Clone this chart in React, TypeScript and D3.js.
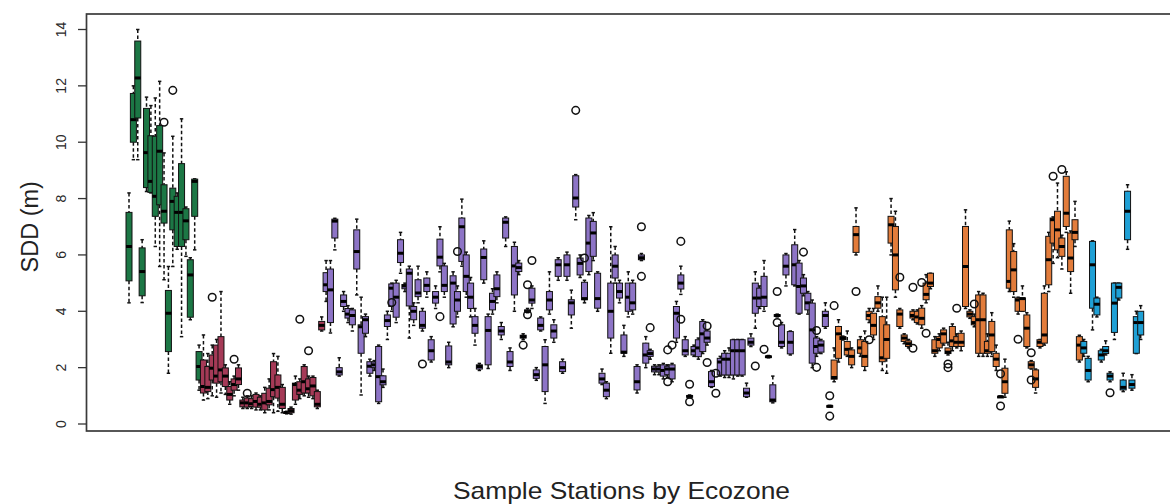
import React from "react";
import * as d3 from "d3";

// [station, lower whisker, q1, median, q3, upper whisker]
type Box = [number, number, number, number, number, number];

const greenBoxes: Box[] = [
  [0, 4.3, 5.08, 6.3, 7.51, 8.2],
  [1, 9.38, 10.0, 10.8, 11.73, 12.0],
  [2, 9.38, 10.86, 12.28, 13.59, 14.0],
  [3, 4.31, 4.55, 5.41, 6.25, 6.54],
  [4, 8.25, 8.39, 9.63, 11.2, 11.6],
  [5, 8.2, 8.22, 8.61, 10.23, 11.3],
  [6, 6.3, 7.37, 8.08, 10.21, 11.57],
  [7, 5.59, 7.78, 9.68, 10.59, 12.16],
  [8, 5.12, 7.13, 7.55, 8.49, 9.62],
  [9, 1.8, 2.57, 3.93, 4.74, 5.59],
  [10, 5.59, 6.89, 7.9, 8.37, 10.21],
  [11, 6.2, 6.3, 7.51, 8.08, 8.2],
  [12, 3.1, 6.3, 7.51, 9.24, 10.83],
  [13, 5.95, 6.54, 7.21, 7.64, 7.7],
  [14, 3.7, 3.79, 5.29, 5.83, 5.9],
  [15, 6.18, 7.37, 8.61, 8.69, 8.7],
  [16, 1.2, 1.56, 2.04, 2.57, 2.8],
];

const redBoxes: Box[] = [
  [17, 0.85, 1.1, 1.33, 2.27, 3.16],
  [18, 0.9, 1.15, 1.3, 2.04, 2.5],
  [19, 1.0, 1.56, 1.98, 2.45, 2.8],
  [20, 0.95, 1.45, 1.7, 2.8, 3.0],
  [21, 1.1, 1.5, 1.92, 3.1, 4.7],
  [22, 1.05, 1.33, 1.7, 1.99, 2.1],
  [23, 0.7, 0.85, 1.05, 1.33, 1.5],
  [24, 1.0, 1.2, 1.4, 1.6, 1.7],
  [25, 1.2, 1.4, 1.6, 1.99, 2.1],
  [26, 0.55, 0.61, 0.75, 0.85, 0.95],
  [27, 0.55, 0.6, 0.75, 0.92, 1.0],
  [28, 0.55, 0.62, 0.72, 0.9, 1.0],
  [29, 0.5, 0.6, 0.8, 1.05, 1.1],
  [30, 0.5, 0.6, 0.7, 0.95, 1.0],
  [31, 0.4, 0.5, 0.75, 1.09, 1.3],
  [32, 0.5, 0.68, 0.8, 1.27, 1.6],
  [33, 0.4, 0.97, 1.22, 2.21, 2.5],
  [34, 0.45, 0.92, 1.3, 1.74, 2.4],
  [35, 0.4, 0.55, 0.7, 1.3, 1.4],
  [36, 0.36, 0.38, 0.41, 0.43, 0.45],
  [37, 0.35, 0.4, 0.47, 0.55, 0.6],
  [38, 0.7, 0.85, 1.4, 1.45, 1.7],
  [39, 0.9, 1.05, 1.2, 1.5, 1.6],
  [40, 1.0, 1.1, 1.5, 2.04, 2.1],
  [41, 0.95, 1.1, 1.25, 1.6, 1.7],
  [42, 0.9, 1.0, 1.35, 1.65, 1.7],
  [43, 0.55, 0.61, 0.7, 1.15, 1.2],
  [44, 3.3, 3.34, 3.5, 3.64, 3.8],
];

const purpleBoxes: Box[] = [
  [45, 4.35, 4.7, 4.94, 5.37, 5.8],
  [46, 3.23, 3.6, 4.76, 5.5, 5.8],
  [47, 6.18, 6.6, 7.2, 7.27, 7.3],
  [48, 1.7, 1.74, 1.85, 2.0, 2.35],
  [49, 4.0, 4.17, 4.35, 4.58, 4.7],
  [50, 3.6, 3.76, 3.9, 4.1, 4.2],
  [51, 3.3, 3.52, 3.85, 4.05, 4.1],
  [52, 4.58, 5.5, 6.12, 6.89, 7.27],
  [53, 1.03, 2.51, 3.45, 3.52, 4.5],
  [54, 3.1, 3.22, 3.7, 3.81, 3.9],
  [55, 1.7, 1.8, 2.05, 2.21, 2.3],
  [56, 1.9, 2.0, 2.1, 2.2, 2.25],
  [57, 0.73, 0.79, 1.68, 2.75, 2.8],
  [58, 1.3, 1.39, 1.5, 1.71, 1.95],
  [59, 3.0, 3.46, 3.67, 3.87, 4.0],
  [60, 4.0, 4.17, 4.82, 4.97, 5.0],
  [61, 3.6, 3.79, 4.5, 5.0, 5.1],
  [62, 5.35, 5.73, 6.06, 6.54, 6.8],
  [63, 4.7, 4.8, 4.9, 4.95, 5.0],
  [64, 3.05, 4.19, 5.35, 5.5, 5.6],
  [65, 3.5, 3.7, 4.0, 4.17, 4.3],
  [66, 4.3, 4.52, 4.65, 5.12, 5.6],
  [67, 3.3, 3.4, 3.5, 4.0, 4.1],
  [68, 4.5, 4.7, 4.92, 5.18, 5.4],
  [69, 2.2, 2.27, 2.6, 2.99, 3.1],
  [70, 4.1, 4.29, 4.5, 4.7, 4.9],
  [71, 5.4, 5.61, 5.92, 6.56, 7.0],
  [72, 4.5, 4.7, 4.92, 5.61, 5.7],
  [73, 2.0, 2.1, 2.2, 2.77, 2.9],
  [74, 3.45, 3.55, 5.0, 5.26, 5.4],
  [75, 3.8, 4.0, 4.4, 4.7, 4.9],
  [76, 5.6, 5.77, 7.0, 7.31, 7.98],
  [77, 4.5, 4.7, 5.24, 6.0, 6.1],
  [78, 3.8, 4.1, 4.5, 5.0, 5.2],
  [79, 2.8, 3.22, 3.5, 3.81, 4.1],
  [80, 1.9, 1.95, 2.04, 2.1, 2.15],
  [81, 5.0, 5.12, 5.91, 6.21, 6.5],
  [82, 1.97, 2.1, 3.32, 3.81, 3.9],
  [83, 3.9, 4.05, 4.35, 4.64, 4.8],
  [84, 4.3, 4.52, 4.8, 5.29, 5.4],
  [85, 3.0, 3.16, 3.3, 3.46, 3.6],
  [86, 6.3, 6.6, 7.16, 7.31, 7.35],
  [87, 1.9, 2.04, 2.2, 2.57, 2.7],
  [88, 4.0, 4.58, 5.61, 6.3, 6.45],
  [89, 5.3, 5.41, 5.55, 5.71, 5.8],
  [90, 3.0, 3.05, 3.1, 3.15, 3.2],
  [91, 3.95, 3.97, 4.0, 4.05, 4.1],
  [92, 4.1, 4.29, 4.4, 4.82, 4.9],
  [93, 1.55, 1.62, 1.75, 1.92, 2.0],
  [94, 3.3, 3.34, 3.5, 3.76, 3.8],
  [95, 0.73, 1.15, 2.1, 2.75, 2.99],
  [96, 3.9, 4.05, 4.4, 4.7, 5.4],
  [97, 2.9, 3.05, 3.3, 3.52, 3.7],
  [98, 5.1, 5.24, 5.65, 5.83, 5.9],
  [99, 1.8, 1.86, 2.0, 2.21, 2.3],
  [100, 5.1, 5.24, 5.65, 6.0, 6.1],
  [101, 3.4, 3.87, 4.3, 4.41, 4.75],
  [102, 7.25, 7.7, 8.02, 8.81, 8.85],
  [103, 5.2, 5.29, 5.7, 5.89, 6.0],
  [104, 4.3, 4.41, 4.45, 5.03, 5.1],
  [105, 5.3, 5.41, 6.42, 7.31, 7.4],
  [106, 5.8, 5.95, 6.78, 7.19, 7.5],
  [107, 4.0, 4.11, 4.45, 5.35, 5.4],
  [108, 1.4, 1.45, 1.6, 1.8, 1.95],
  [109, 0.9, 0.97, 1.2, 1.45, 1.5],
  [110, 2.51, 3.05, 4.0, 5.0, 7.0],
  [111, 5.0, 5.18, 5.6, 6.0, 6.3],
  [112, 4.3, 4.47, 4.7, 5.0, 5.1],
  [113, 2.4, 2.51, 2.55, 3.16, 3.5],
  [114, 3.8, 4.0, 4.5, 5.0, 5.4],
  [115, 3.9, 4.05, 4.3, 5.0, 5.1],
  [116, 1.1, 1.21, 1.5, 2.04, 2.1],
  [117, 5.8, 5.83, 5.9, 6.0, 6.05],
  [118, 2.0, 2.16, 2.45, 2.87, 3.1],
  [119, 2.3, 2.4, 2.5, 2.6, 2.65],
  [120, 1.75, 1.85, 1.95, 2.05, 2.1],
  [121, 1.75, 1.85, 1.95, 2.05, 2.1],
  [122, 1.6, 1.7, 1.9, 2.1, 2.15],
  [123, 1.65, 1.75, 1.95, 2.05, 2.1],
  [124, 1.5, 1.6, 1.95, 2.1, 2.15],
  [125, 2.9, 3.05, 3.93, 4.17, 4.35],
  [126, 4.6, 4.79, 5.0, 5.29, 5.6],
  [127, 2.4, 2.45, 2.6, 2.99, 3.1],
  [128, 0.93, 0.95, 0.98, 1.01, 1.03],
  [129, 2.4, 2.45, 2.6, 2.75, 2.8],
  [130, 2.3, 2.39, 2.7, 2.99, 3.05],
  [131, 2.5, 2.57, 3.2, 3.64, 3.7],
  [132, 2.8, 2.9, 3.05, 3.3, 3.35],
  [133, 1.3, 1.33, 1.5, 1.86, 1.9],
  [135, 1.7, 1.74, 2.2, 2.33, 2.4],
  [136, 1.65, 1.74, 2.3, 2.51, 2.6],
  [137, 1.65, 1.74, 2.3, 2.51, 2.7],
  [138, 1.6, 1.74, 2.6, 2.99, 3.0],
  [139, 1.7, 1.74, 2.6, 2.99, 3.0],
  [140, 1.7, 1.74, 2.6, 2.99, 3.0],
  [141, 0.95, 0.97, 1.1, 1.27, 1.45],
  [142, 2.75, 2.8, 2.9, 3.05, 3.2],
  [143, 3.4, 3.93, 4.47, 5.0, 5.4],
  [144, 4.1, 4.17, 4.47, 4.82, 4.9],
  [145, 4.0, 4.17, 4.5, 5.24, 5.8],
  [146, 2.35, 2.37, 2.39, 2.41, 2.43],
  [147, 0.75, 0.79, 0.85, 1.39, 1.7],
  [148, 3.8, 3.82, 3.85, 3.88, 3.9],
  [149, 2.7, 2.75, 2.9, 3.52, 3.6],
  [150, 4.9, 5.29, 5.6, 6.0, 6.05],
  [151, 2.45, 2.49, 2.9, 3.28, 3.3],
  [152, 4.9, 4.94, 5.65, 6.36, 6.9],
  [153, 3.9, 3.93, 4.88, 5.71, 5.8],
  [154, 4.55, 4.64, 4.9, 5.18, 5.3],
  [155, 3.9, 4.05, 4.3, 4.64, 4.7],
  [156, 2.0, 2.16, 3.34, 4.29, 4.4],
  [157, 2.4, 2.51, 2.75, 3.05, 3.1],
  [158, 2.5, 2.55, 2.8, 2.95, 3.0],
  [159, 3.4, 3.46, 3.85, 4.0, 4.3],
];

const orangeBoxes: Box[] = [
  [160, 0.6, 0.61, 0.63, 0.65, 0.66],
  [161, 1.5, 1.59, 1.65, 2.27, 2.7],
  [162, 2.2, 2.33, 3.2, 3.46, 3.7],
  [163, 2.98, 3.0, 3.05, 3.1, 3.12],
  [164, 2.4, 2.45, 2.65, 2.93, 3.3],
  [165, 2.0, 2.1, 2.4, 2.63, 2.7],
  [166, 6.0, 6.09, 6.72, 7.01, 7.67],
  [167, 2.4, 2.51, 2.7, 2.99, 3.1],
  [168, 1.9, 2.04, 2.4, 2.93, 3.3],
  [169, 3.6, 3.7, 3.85, 4.0, 4.1],
  [170, 3.0, 3.16, 3.5, 3.93, 4.1],
  [171, 4.0, 4.11, 4.3, 4.52, 4.9],
  [172, 1.9, 2.21, 2.35, 3.81, 4.5],
  [173, 1.8, 2.33, 3.0, 3.52, 4.5],
  [174, 6.0, 6.42, 7.07, 7.37, 8.0],
  [175, 4.5, 4.76, 6.0, 7.01, 7.55],
  [176, 3.4, 3.46, 3.9, 4.05, 4.1],
  [177, 2.85, 2.93, 3.05, 3.16, 3.2],
  [178, 2.7, 2.75, 2.85, 2.95, 3.0],
  [179, 3.7, 3.76, 3.85, 4.0, 4.05],
  [180, 3.55, 3.6, 3.8, 4.0, 4.05],
  [181, 3.4, 3.52, 3.75, 4.11, 4.2],
  [182, 4.3, 4.41, 4.6, 5.0, 5.3],
  [183, 4.8, 4.88, 5.0, 5.35, 5.35],
  [184, 2.4, 2.51, 2.6, 2.99, 3.1],
  [185, 2.6, 2.7, 3.0, 3.1, 3.2],
  [186, 2.8, 2.87, 3.2, 3.34, 3.4],
  [187, 2.45, 2.5, 2.55, 2.7, 2.9],
  [188, 2.6, 2.75, 2.95, 3.46, 3.55],
  [189, 2.7, 2.75, 2.9, 3.1, 3.2],
  [190, 2.6, 2.75, 2.9, 3.22, 3.3],
  [191, 4.1, 4.17, 5.59, 7.01, 7.6],
  [192, 3.75, 3.8, 3.9, 4.0, 4.05],
  [193, 3.45, 3.52, 3.6, 3.81, 3.9],
  [194, 2.4, 2.51, 3.7, 4.58, 4.7],
  [195, 2.4, 2.51, 3.7, 4.58, 4.64],
  [196, 2.4, 2.51, 2.6, 2.93, 3.2],
  [197, 2.4, 2.57, 3.16, 3.64, 3.95],
  [198, 1.9, 2.04, 2.3, 2.51, 2.8],
  [199, 0.95, 0.96, 0.97, 0.98, 0.99],
  [200, 0.95, 1.09, 1.5, 1.98, 2.3],
  [201, 4.7, 4.82, 5.06, 6.89, 7.2],
  [202, 4.5, 4.7, 5.47, 6.12, 6.4],
  [203, 3.9, 4.0, 4.4, 4.47, 4.5],
  [204, 4.0, 4.0, 4.45, 4.47, 4.9],
  [205, 2.7, 2.75, 3.4, 3.87, 3.95],
  [206, 1.95, 1.98, 2.1, 2.21, 2.25],
  [207, 1.1, 1.3, 1.6, 1.92, 1.95],
  [208, 2.7, 2.75, 2.9, 2.99, 3.0],
  [209, 2.8, 2.87, 3.16, 4.64, 4.9],
  [210, 4.7, 4.94, 5.83, 6.66, 6.8],
  [211, 5.7, 6.42, 7.25, 7.31, 7.35],
  [212, 5.9, 6.18, 6.89, 7.55, 8.55],
  [213, 5.5, 5.95, 6.3, 6.6, 6.7],
  [214, 6.8, 7.01, 7.48, 8.79, 8.95],
  [215, 4.64, 5.41, 5.89, 6.78, 6.85],
  [216, 6.3, 6.54, 6.8, 7.25, 7.9],
  [217, 2.2, 2.27, 2.8, 3.1, 3.15],
];

const blueBoxes: Box[] = [
  [218, 2.4, 2.51, 2.7, 2.93, 3.0],
  [219, 1.5, 1.56, 1.9, 2.33, 2.4],
  [220, 3.34, 4.11, 5.65, 6.48, 6.5],
  [221, 3.8, 3.87, 4.25, 4.47, 4.5],
  [222, 2.2, 2.27, 2.45, 2.6, 2.65],
  [223, 2.45, 2.5, 2.6, 2.75, 2.95],
  [224, 1.5, 1.56, 1.7, 1.8, 1.85],
  [225, 3.0, 3.25, 4.29, 5.0, 5.0],
  [226, 4.4, 4.47, 4.85, 5.0, 5.0],
  [227, 1.15, 1.21, 1.3, 1.56, 1.8],
  [228, 6.2, 6.54, 7.55, 8.26, 8.49],
  [229, 1.2, 1.27, 1.4, 1.56, 1.75],
  [230, 2.5, 2.51, 3.6, 3.81, 4.0],
  [231, 3.0, 3.16, 3.6, 4.0, 4.2],
];

// [station, value]
const outliers: [number, number][] = [
  [8, 10.71], [10, 11.84],
  [19, 4.5], [24, 2.3], [27, 1.09], [39, 3.72], [41, 2.6],
  [60, 4.31], [67, 2.13], [71, 3.81], [75, 6.12], [90, 2.8], [91, 3.88],
  [91, 4.94], [92, 5.8], [102, 11.13], [104, 5.89], [117, 7.0], [117, 5.24],
  [119, 3.42], [123, 1.5], [123, 2.63], [124, 2.8], [126, 3.72], [126, 6.48],
  [128, 1.41], [128, 0.79], [132, 3.48], [132, 2.18], [134, 1.8], [134, 1.09],
  [143, 2.06], [145, 2.65], [148, 4.7], [148, 3.6], [154, 6.1], [157, 3.32],
  [157, 2.01], [160, 1.0], [160, 0.28], [161, 4.2],
  [166, 4.7], [169, 2.99], [176, 5.21], [179, 2.69], [179, 4.85], [181, 5.02],
  [182, 3.22], [187, 2.13], [187, 2.0], [189, 4.11], [193, 4.26], [199, 1.78],
  [199, 0.64], [203, 3.01], [206, 2.53], [206, 1.56], [211, 8.79], [213, 9.03],
  [224, 1.11],
];

const yTicks = [0, 2, 4, 6, 8, 10, 12, 14];

const zones = [
  { color: "#1c7745", boxes: greenBoxes },
  { color: "#a53a57", boxes: redBoxes },
  { color: "#8d74c6", boxes: purpleBoxes },
  { color: "#e27c3b", boxes: orangeBoxes },
  { color: "#1fa0d5", boxes: blueBoxes },
];

const W = 1170;
const H = 504;

export default function App() {
  const x = d3.scaleLinear().domain([0, 231]).range([129, 1140.7]);
  const y = d3.scaleLinear().domain([0, 14]).range([424, 29.5]);
  const boxW = 6;
  const capW = 1.7;
  const plotLeft = 86.5;

  const all = zones
    .flatMap((z) => z.boxes.map((b) => ({ b, color: z.color })))
    .sort((a, c) => a.b[0] - c.b[0]);

  return (
    <div style={{ position: "absolute", left: 0, top: 0 }}>
      <svg width={W} height={H} style={{ display: "block", background: "#fff" }}
        fontFamily="'Liberation Sans', Arial, Helvetica, sans-serif">
        <rect x={plotLeft} y={14} width={W} height={417} fill="none" stroke="#3a3a3a" strokeWidth={1.7} />

        {yTicks.map((t) => (
          <g key={t}>
            <line x1={78} x2={plotLeft} y1={y(t)} y2={y(t)} stroke="#333" strokeWidth={1.3} />
            <text transform={`translate(66,${y(t)}) rotate(-90)`} textAnchor="middle"
              fontSize={14} fill="#2a2a2a">{t}</text>
          </g>
        ))}

        <text transform={`translate(38,${y(7)}) rotate(-90)`} textAnchor="middle"
          fontSize={23.5} fill="#222">SDD (m)</text>
        <text x={621.5} y={499} textAnchor="middle" fontSize={24} fill="#222"
          textLength={337} lengthAdjust="spacingAndGlyphs">Sample Stations by Ecozone</text>

        <g>
          {all.map(({ b, color }) => {
            const [s, lo, q1, med, q3, hi] = b;
            const cx = x(s);
            return (
              <g key={s}>
                <line x1={cx} x2={cx} y1={y(hi)} y2={y(q3)} stroke="#111" strokeWidth={1.5} strokeDasharray="3.5,2.5" />
                <line x1={cx} x2={cx} y1={y(q1)} y2={y(lo)} stroke="#111" strokeWidth={1.5} strokeDasharray="3.5,2.5" />
                <line x1={cx - capW} x2={cx + capW} y1={y(hi)} y2={y(hi)} stroke="#111" strokeWidth={1.5} />
                <line x1={cx - capW} x2={cx + capW} y1={y(lo)} y2={y(lo)} stroke="#111" strokeWidth={1.5} />
                <rect x={cx - boxW / 2} y={y(q3)} width={boxW} height={Math.max(y(q1) - y(q3), 1.5)}
                  fill={color} stroke="#111" strokeWidth={1} />
                <line x1={cx - boxW / 2} x2={cx + boxW / 2} y1={y(med)} y2={y(med)} stroke="#000" strokeWidth={3} />
              </g>
            );
          })}
        </g>

        <g>
          {outliers.map(([s, v], i) => (
            <circle key={i} cx={x(s)} cy={y(v)} r={3.8} fill="none" stroke="#111" strokeWidth={1.5} />
          ))}
        </g>
      </svg>
    </div>
  );
}
